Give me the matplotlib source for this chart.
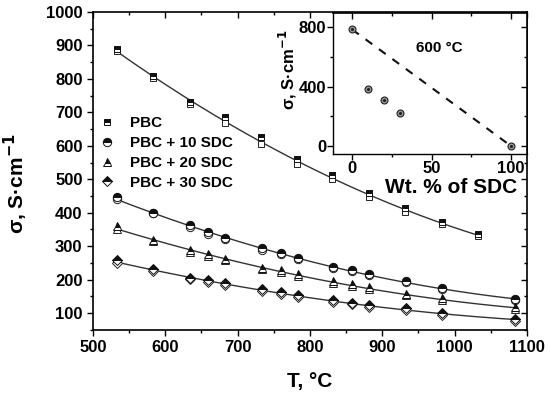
import numpy as np
import matplotlib
matplotlib.use("Agg")
import matplotlib.pyplot as plt
from matplotlib.lines import Line2D

plt.rcParams['font.family'] = ['Liberation Sans', 'DejaVu Sans']
plt.rcParams['font.weight'] = 'bold'

# ---- data ----
T_pbc = [533, 583, 634, 683, 732, 782, 831, 881, 931, 982, 1032]
pbc_a = [888, 808, 730, 686, 627, 562, 513, 458, 413, 371, 336]
pbc_b = [884, 804, 724, 667, 604, 547, 500, 448, 403, 365, 332]

T_sdc = [533, 583, 634, 659, 683, 734, 760, 783, 832, 858, 882, 933, 983, 1083]
s10_a = [446, 400, 362, 341, 326, 296, 281, 265, 239, 228, 217, 195, 175, 142]
s10_b = [440, 398, 358, 338, 323, 290, 276, 262, 236, 225, 214, 192, 172, 139]
s20_a = [360, 320, 288, 276, 263, 236, 228, 216, 197, 186, 177, 158, 145, 117]
s20_b = [352, 317, 284, 272, 259, 232, 222, 211, 190, 182, 172, 153, 139, 111]
s30_a = [258, 232, 206, 198, 190, 171, 164, 154, 139, 131, 124, 114, 101, 83]
s30_b = [251, 226, 202, 193, 185, 165, 157, 149, 133, 126, 119, 109, 96, 77]

wt = [0, 10, 20, 30, 100]
sig600 = [785, 385, 310, 225, 0]
line_wt = [0, 100]
line_sig = [785, 0]

labels = ['PBC', 'PBC + 10 SDC', 'PBC + 20 SDC', 'PBC + 30 SDC']
markers = ['s', 'o', '^', 'D']
msizes = [5, 6, 6, 5]

fig = plt.figure(figsize=(5.5, 3.97), dpi=100)
ax = fig.add_axes([0.169, 0.169, 0.789, 0.801])

series = [(T_pbc, pbc_a, pbc_b), (T_sdc, s10_a, s10_b), (T_sdc, s20_a, s20_b), (T_sdc, s30_a, s30_b)]
for (T, a, b), m, ms in zip(series, markers, msizes):
    T = np.array(T, float)
    mean = (np.array(a) + np.array(b)) / 2
    c = np.polyfit(T, mean, 2)
    tt = np.linspace(T.min(), T.max(), 200)
    ax.plot(tt, np.polyval(c, tt), color='#333333', lw=1.0, zorder=1)
    ax.plot(T, b, ls='none', marker=m, ms=ms, mfc='white', mec='#222222', mew=0.7, zorder=2)
    ax.plot(T, a, ls='none', marker=m, ms=ms, mfc='#111111', mec='#111111', mew=0.7,
            fillstyle='top', markerfacecoloralt='white', zorder=3)

ax.set_xlim(500, 1100)
ax.set_ylim(50, 1000)
ax.set_xticks(np.arange(500, 1101, 100))
ax.set_xticks(np.arange(550, 1100, 100), minor=True)
ax.set_yticks(np.arange(100, 1001, 100))
ax.set_yticks(np.arange(50, 1000, 100), minor=True)
ax.tick_params(axis='both', which='major', direction='out', length=4, width=1.0, labelsize=12)
ax.tick_params(axis='both', which='minor', direction='out', length=2.5, width=1.0)
ax.tick_params(top=True, right=True, which='both')
for t in ax.xaxis.get_major_ticks() + ax.xaxis.get_minor_ticks():
    t.tick2line.set_marker(3)
for t in ax.yaxis.get_major_ticks() + ax.yaxis.get_minor_ticks():
    t.tick2line.set_marker(0)
for lab in ax.get_xticklabels() + ax.get_yticklabels():
    lab.set_fontweight('bold')
for s in ax.spines.values():
    s.set_linewidth(1.2)
ax.set_xlabel('T, °C', fontsize=15, fontweight='bold', labelpad=12)
ax.set_ylabel('σ, S·cm$^{\\mathbf{-1}}$', fontsize=15, fontweight='bold')
ax.yaxis.set_label_coords(-0.145, 0.46)

handles = [Line2D([], [], ls='none', marker=m, ms=ms, mfc='#111111', mec='#111111',
                  markerfacecoloralt='white', fillstyle='top', mew=0.7)
           for m, ms in zip(markers, msizes)]
leg = ax.legend(handles, labels, loc='upper left', bbox_to_anchor=(-0.01, 0.705), frameon=False,
                prop={'size': 11, 'weight': 'bold'}, handletextpad=1.0, labelspacing=0.38,
                handlelength=1.0, borderaxespad=0.3)

# ---- inset ----
ins = fig.add_axes([0.6055, 0.612, 0.3525, 0.355])
ins.set_facecolor('white')
ins.plot(line_wt, line_sig, ls=(0, (4, 4)), color='#111111', lw=1.5, zorder=1)
ins.plot(wt, sig600, ls='none', marker='o', ms=5, mfc='#999999', mec='#222222', mew=0.8, zorder=2)
ins.plot(wt, sig600, ls='none', marker='.', ms=2.5, color='#222222', zorder=3)
ins.set_xlim(-12, 110)
ins.set_ylim(-54, 895)
ins.set_xticks([0, 50, 100])
ins.set_xticks([25, 75], minor=True)
ins.set_yticks([0, 400, 800])
ins.set_yticks([200, 600], minor=True)
ins.tick_params(axis='both', which='major', direction='out', length=4, width=1.0, labelsize=12, pad=1)
ins.tick_params(axis='both', which='minor', direction='out', length=2.5, width=1.0)
ins.tick_params(top=True, right=True, which='both')
for t in ins.xaxis.get_major_ticks() + ins.xaxis.get_minor_ticks():
    t.tick2line.set_marker(3)
for t in ins.yaxis.get_major_ticks() + ins.yaxis.get_minor_ticks():
    t.tick2line.set_marker(0)
for lab in ins.get_xticklabels() + ins.get_yticklabels():
    lab.set_fontweight('bold')
ins.spines['top'].set_linewidth(1.2)
ins.spines['right'].set_linewidth(1.2)
ins.spines['left'].set_linewidth(1.0)
ins.spines['bottom'].set_linewidth(1.0)
ins.set_xlabel('Wt. % of SDC', fontsize=15, fontweight='bold')
ins.xaxis.set_label_coords(0.61, -0.17)
ins.set_ylabel('σ, S·cm$^{\\mathbf{-1}}$', fontsize=12, fontweight='bold')
ins.yaxis.set_label_coords(-0.175, 0.6)
ins.text(55, 660, '600 °C', fontsize=11, fontweight='bold', ha='center', va='center')

fig.savefig('out.png', dpi=100)
